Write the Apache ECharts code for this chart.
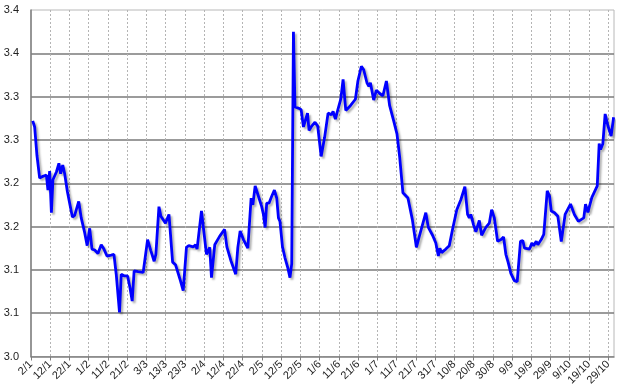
<!DOCTYPE html>
<html>
<head>
<meta charset="utf-8">
<script src="https://cdn.jsdelivr.net/npm/echarts@6/dist/echarts.min.js"></script>
<style>
  html, body { margin: 0; padding: 0; background: #fff; }
  #chart { width: 627px; height: 388px; }
</style>
</head>
<body>
<div id="chart"></div>
<script>
/* ---- Data (x = days since 2 Jan) ---- */
const xTickLabels = ["2/1","12/1","22/1","1/2","11/2","21/2","3/3","13/3","23/3","2/4","12/4","22/4",
  "2/5","12/5","22/5","1/6","11/6","21/6","1/7","11/7","21/7","31/7","10/8","20/8","30/8",
  "9/9","19/9","29/9","9/10","19/10","29/10"];
const yTickLabels = ["3.0","3.1","3.1","3.2","3.2","3.3","3.3","3.4","3.4"];

const days = [
  0.9,1.9,3.1,4.5,6.2,8,8.8,9.7,10.6,11.4,13.2,14.5,15.4,16.5,17.5,18.9,21.5,22.7,24.8,26.1,
  27.9,29.2,30.5,31.7,33.1,34.8,36.5,37.9,39.5,41.7,43.1,44.3,46,46.9,48.6,
  50.2,51.4,52.6,53.6,55.7,58.3,60.6,62.3,64,64.9,66.5,67.5,69.9,71.7,72.5,73.6,75.1,77.4,79.1,
  80.8,82,84.3,85.5,86.3,87.2,88.6,90,91.2,92.1,92.9,93.8,95.5,98.1,
  100.6,101.8,104,106.4,107.5,108.7,110.4,112.7,114.4,115.3,116.5,118.2,119.9,120.8,121.7,122.5,
  123.7,125.1,126.5,127.7,128.6,129.4,130.7,132,133.4,134.6,135.5,136.4,137.2,139.3,140.4,141.6,
  142.4,143.7,144.5,145.9,147.6,149,150.8,
  152.6,154.4,156.1,157,158.2,159.6,161,162.2,163.6,166,168.6,169.9,171.7,172.9,174.6,175.6,176.4,
  178.1,179.5,181.2,182.9,184.7,186.4,188.5,190.2,191.6,193.3,195.9,198.2,200.3,201.6,
  205.2,206.5,208.7,210.4,211.7,212.5,213.4,215.6,217.4,219.1,221.3,223.4,225.5,226.9,227.8,228.6,
  230,231.2,233,234.2,236.4,238.2,239.4,240.8,242.5,244.3,245.6,246.8,248,249.4,251.2,
  252.7,254.4,255.6,256.5,259.1,260.3,261.2,262.6,263.4,265.2,266.5,268.3,269.5,270.4,272.1,273.8,
  275.6,276.6,277.6,280.4,282.4,284.5,285.9,287.3,288.2,289.4,291.5,294.3,295.3,296,297.2,298.4,
  299.8,301.5,302.8
];
const values = [
  3.272,3.265,3.232,3.206,3.208,3.2095,3.192,3.214,3.166,3.204,3.213,3.223,3.211,3.221,3.211,3.1905,3.161,3.163,3.179,3.16,
  3.143,3.128,3.148,3.124,3.123,3.119,3.129,3.124,3.116,3.117,3.118,3.095,3.051,3.095,3.093,
  3.093,3.08,3.064,3.099,3.098,3.097,3.135,3.122,3.11,3.118,3.173,3.162,3.154,3.164,3.163,3.109,3.106,3.0895,3.076,
  3.126,3.128,3.1265,3.129,3.124,3.126,3.168,3.141,3.118,3.122,3.126,3.091,3.129,3.139,
  3.1467,3.1265,3.11,3.095,3.126,3.145,3.135,3.125,3.183,3.175,3.197,3.185,3.173,3.164,3.149,3.177,
  3.177,3.185,3.192,3.183,3.16,3.156,3.1265,3.114,3.103,3.091,3.107,3.375,3.288,3.2865,3.285,3.265,
  3.263,3.281,3.261,3.266,3.2705,3.266,3.231,
  3.253,3.281,3.279,3.283,3.274,3.286,3.297,3.32,3.284,3.2895,3.297,3.318,3.335,3.331,3.316,3.312,3.316,
  3.296,3.3075,3.3036,3.301,3.318,3.2895,3.272,3.257,3.2305,3.189,3.183,3.158,3.126,3.137,
  3.166,3.149,3.14,3.131,3.116,3.125,3.12,3.124,3.128,3.147,3.1695,3.181,3.196,3.164,3.16,3.164,
  3.152,3.144,3.157,3.14,3.149,3.154,3.1695,3.16,3.133,3.135,3.138,3.118,3.1086,3.096,3.0876,
  3.0865,3.133,3.134,3.125,3.124,3.131,3.128,3.133,3.129,3.135,3.141,3.1912,3.185,3.168,3.166,3.162,
  3.1326,3.133,3.164,3.176,3.164,3.156,3.158,3.16,3.176,3.1665,3.1837,3.197,3.2457,3.239,3.2457,3.28,
  3.2667,3.2545,3.2762
];

(function() {
  "use strict";

  const chart = echarts.init(document.getElementById("chart"), null, { renderer: "canvas" });
  const font = "'Liberation Sans', Arial, sans-serif";

  chart.setOption({
    animation: false,
    backgroundColor: "#fff",
    grid: { left: 31, right: 13, top: 10, bottom: 28, show: true, borderColor: "#b8b8b8", borderWidth: 1 },
    xAxis: {
      type: "value", min: 0, max: 303, interval: 10,
      axisLine: { show: true, onZero: false, lineStyle: { color: "#7f7f7f", width: 1.5 } },
      axisTick: { show: true, inside: false, length: 4, lineStyle: { color: "#7f7f7f" } },
      axisLabel: {
        rotate: 45, margin: 6, fontSize: 11, color: "#222", fontFamily: font,
        showMaxLabel: false,
        formatter: v => (v % 10 === 0 ? xTickLabels[v / 10] || "" : "")
      },
      splitLine: { show: true, showMaxLine: false, showMinLine: false, lineStyle: { color: "#b4b4b4", type: [2, 2], width: 1 } }
    },
    yAxis: {
      type: "value", min: 3.0, max: 3.4, interval: 0.05,
      axisLine: { show: true, lineStyle: { color: "#7f7f7f", width: 1.5 } },
      axisTick: { show: false },
      axisLabel: {
        margin: 12, fontSize: 11, color: "#222", fontFamily: font,
        formatter: v => yTickLabels[Math.round((v - 3.0) / 0.05)] || ""
      },
      splitLine: { show: true, showMaxLine: false, showMinLine: false, lineStyle: { color: "#7a7a7a", width: 1.5 } }
    },
    series: [{
      type: "line",
      data: days.map((d, i) => [d, values[i]]),
      symbol: "none",
      lineStyle: {
        color: "#0000ff", width: 2.8,
        shadowColor: "rgba(0,0,0,0.3)", shadowBlur: 2, shadowOffsetX: 2, shadowOffsetY: 2
      }
    }]
  });
})();
</script>
</body>
</html>
